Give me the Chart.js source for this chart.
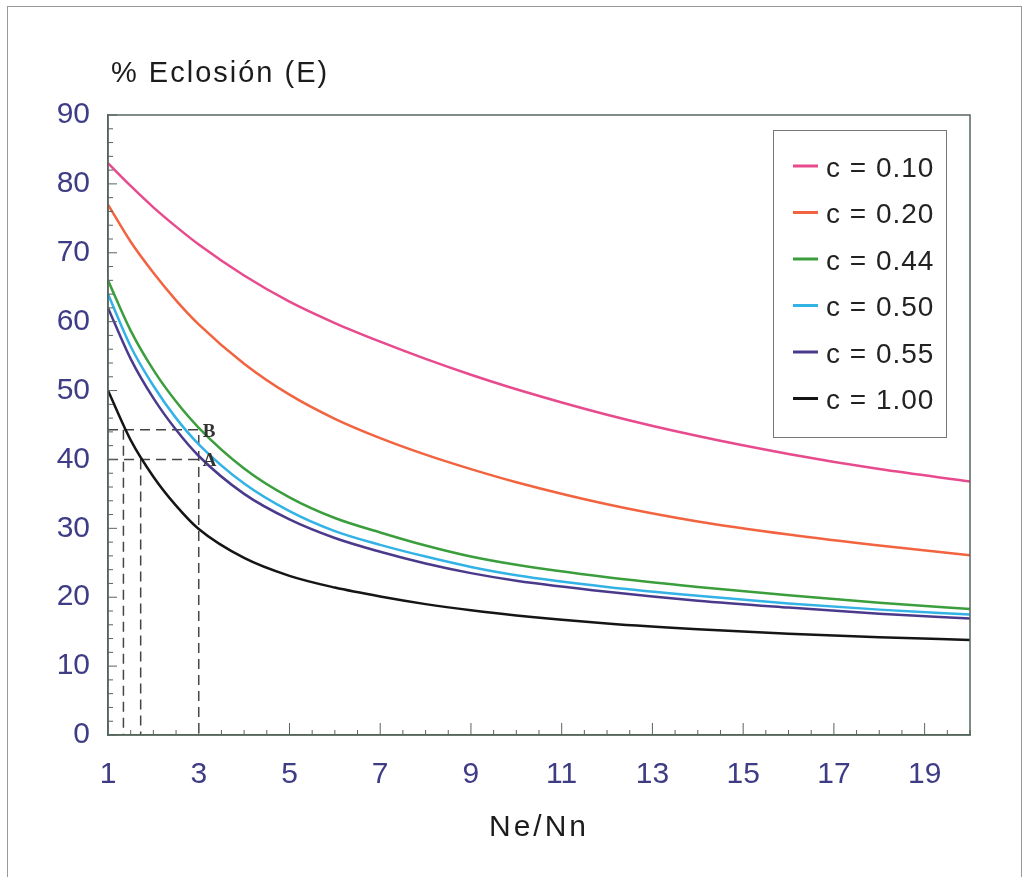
<!DOCTYPE html>
<html>
<head>
<meta charset="utf-8">
<script src="https://cdn.jsdelivr.net/npm/chart.js@4"></script>
<style>
  body { margin: 0; background: #fff; }
</style>
</head>
<body>
<canvas id="myChart" width="1028" height="877"></canvas>
<script>
// values
var xs = [1, 1.5, 2, 2.5, 3, 4, 5, 6, 7, 8, 9, 10, 12, 14, 16, 18, 20];
var labels = ["c = 0.10", "c = 0.20", "c = 0.44", "c = 0.50", "c = 0.55", "c = 1.00"];
var c010 = [83, 79.7, 76.6, 73.8, 71.2, 66.7, 62.9, 59.8, 57.1, 54.6, 52.3, 50.2, 46.5, 43.4, 40.8, 38.6, 36.8];
var c020 = [77, 71.6, 67.1, 63.1, 59.6, 53.9, 49.4, 45.9, 43.1, 40.7, 38.6, 36.7, 33.5, 31.0, 29.1, 27.5, 26.1];
var c044 = [66, 58.7, 53.0, 48.4, 44.6, 38.7, 34.5, 31.5, 29.4, 27.5, 25.9, 24.7, 22.9, 21.5, 20.3, 19.2, 18.3];
var c050 = [64, 56.4, 50.7, 46.0, 42.2, 36.5, 32.5, 29.6, 27.6, 25.9, 24.4, 23.2, 21.5, 20.2, 19.1, 18.2, 17.5];
var c055 = [62, 54.6, 48.9, 44.3, 40.5, 35.0, 31.3, 28.6, 26.6, 24.9, 23.5, 22.4, 20.8, 19.5, 18.5, 17.6, 16.9];
var c100 = [50, 42.8, 37.5, 33.3, 29.9, 25.7, 23.1, 21.4, 20.1, 19.0, 18.1, 17.35, 16.2, 15.35, 14.7, 14.2, 13.8];
var colors = ["#e84a8e", "#f2633f", "#3a9e3c", "#33b2e6", "#4b3a8c", "#151515"];

// dashed guide lines (points A and B)
var guideB = [[1, 44.3], [3, 44.3], [3, 0]];
var guideBv = [[1.34, 44.3], [1.34, 0]];
var guideA = [[1, 40], [3, 40]];
var guideAv = [[1.72, 40], [1.72, 0]];

var xTicks = [1, 3, 5, 7, 9, 11, 13, 15, 17, 19];
var yTicks = [0, 10, 20, 30, 40, 50, 60, 70, 80, 90];

var axisColor = "#55665c";
var labelColor = "#3f3c86";
var fontFam = "'Liberation Sans', Arial, Helvetica, sans-serif";

function toPts(ys) {
  return xs.map(function (x, i) { return { x: x, y: ys[i] }; });
}
function pairPts(arr) {
  return arr.map(function (p) { return { x: p[0], y: p[1] }; });
}

var series = [c010, c020, c044, c050, c055, c100];
var datasets = series.map(function (s, i) {
  return {
    label: labels[i],
    data: toPts(s),
    borderColor: colors[i],
    backgroundColor: colors[i],
    borderWidth: 2.5,
    pointRadius: 0,
    cubicInterpolationMode: 'monotone',
    fill: false
  };
});
[guideB, guideBv, guideA, guideAv].forEach(function (g) {
  datasets.push({
    label: "guide",
    data: pairPts(g),
    borderColor: "#444",
    borderWidth: 1.5,
    borderDash: [10, 6],
    pointRadius: 0,
    tension: 0,
    fill: false
  });
});

var decor = {
  id: 'decor',
  afterDraw: function (chart) {
    var ctx = chart.ctx;
    var a = chart.chartArea;
    var xs_ = chart.scales.x, ys_ = chart.scales.y;
    ctx.save();
    // outer frame
    ctx.strokeStyle = "#999";
    ctx.lineWidth = 1;
    ctx.strokeRect(7.5, 6.5, 1014, 880);
    // box around plot
    ctx.strokeStyle = axisColor;
    ctx.lineWidth = 1.5;
    ctx.strokeRect(a.left, a.top, a.right - a.left, a.bottom - a.top);
    // inside ticks
    ctx.lineWidth = 1;
    for (var v = 0; v <= 90; v += 2) {
      var py = ys_.getPixelForValue(v);
      var len = (v % 10 === 0) ? 9 : 5;
      ctx.beginPath(); ctx.moveTo(a.left, py); ctx.lineTo(a.left + len, py); ctx.stroke();
    }
    for (var t = 1; t <= 20; t += 0.5) {
      var px = xs_.getPixelForValue(t);
      var l2 = (xTicks.indexOf(t) >= 0) ? 12 : 5;
      ctx.beginPath(); ctx.moveTo(px, a.bottom); ctx.lineTo(px, a.bottom - l2); ctx.stroke();
    }
    // axis titles
    ctx.fillStyle = "#1c1c1c";
    ctx.font = "29px " + fontFam;
    ctx.letterSpacing = "2px";
    ctx.textBaseline = "middle";
    ctx.textAlign = "left";
    ctx.fillText("% Eclosión (E)", 111, 74);
    ctx.font = "30px " + fontFam;
    ctx.letterSpacing = "3px";
    ctx.textAlign = "center";
    ctx.fillText("Ne/Nn", (a.left + a.right) / 2, 828);
    // A / B marks
    ctx.letterSpacing = "0px";
    ctx.font = "bold 19px 'Liberation Serif', 'DejaVu Serif', serif";
    ctx.textAlign = "left";
    ctx.fillStyle = "#333";
    ctx.fillText("B", xs_.getPixelForValue(3) + 4, ys_.getPixelForValue(guideB[0][1]) + 2);
    ctx.fillText("A", xs_.getPixelForValue(3) + 4, ys_.getPixelForValue(guideA[0][1]) + 2);
    // legend
    ctx.fillStyle = "#fff";
    ctx.fillRect(773, 130, 173, 307);
    ctx.strokeStyle = "#777";
    ctx.lineWidth = 1;
    ctx.strokeRect(773.5, 130.5, 173, 307);
    ctx.font = "28px " + fontFam;
    ctx.letterSpacing = "1px";
    ctx.textBaseline = "middle";
    for (var i = 0; i < labels.length; i++) {
      var ry = 169 + i * 46.5;
      ctx.strokeStyle = colors[i];
      ctx.lineWidth = 3;
      ctx.beginPath(); ctx.moveTo(793, ry - 3); ctx.lineTo(818, ry - 3); ctx.stroke();
      ctx.fillStyle = "#222";
      ctx.fillText(labels[i], 826, ry);
    }
    ctx.restore();
  }
};

var ctx = document.getElementById("myChart").getContext('2d');
var myChart = new Chart(ctx, {
  type: 'line',
  data: { datasets: datasets },
  options: {
    responsive: false,
    animation: false,
    layout: { padding: { top: 115, right: 58, left: 0, bottom: 0 } },
    plugins: {
      legend: { display: false },
      tooltip: { enabled: false }
    },
    scales: {
      x: {
        type: 'linear',
        min: 1,
        max: 20,
        grid: { display: false },
        border: { display: true, color: axisColor, width: 1.5 },
        ticks: { color: labelColor, font: { size: 30, family: fontFam }, padding: 14 },
        afterBuildTicks: function (s) { s.ticks = xTicks.map(function (v) { return { value: v }; }); },
        afterFit: function (s) { s.height = 142; }
      },
      y: {
        min: 0,
        max: 90,
        grid: { display: false },
        border: { display: true, color: axisColor, width: 1.5 },
        ticks: { color: labelColor, font: { size: 30, family: fontFam }, padding: 10 },
        afterBuildTicks: function (s) { s.ticks = yTicks.map(function (v) { return { value: v }; }); },
        afterFit: function (s) { s.width = 108; }
      }
    }
  },
  plugins: [decor]
});
</script>
</body>
</html>
